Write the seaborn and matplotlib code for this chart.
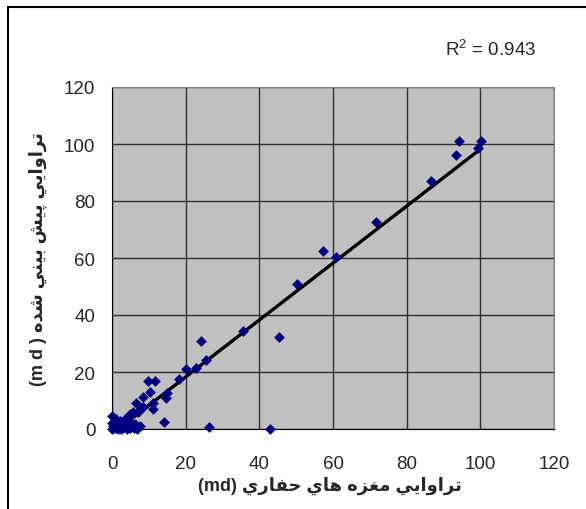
import numpy as np
import pandas as pd
import matplotlib
matplotlib.use('Agg')
import matplotlib.pyplot as plt
import seaborn as sns
from matplotlib.patches import Rectangle

# core permeability (x) vs predicted permeability (y), md
measured = [94.3, 100.3, 93.3, 99.5, 86.5, 71.7, 57.4, 60.7, 50.2, 35.7,
            45.4, 24.1, 25.4, 22.8, 20.0, 18.1, 15.0, 14.7, 9.7, 11.7,
            10.3, 8.5, 11.2, 6.5, 11.2, 8.5, 5.8, 4.9, 14.2, 26.2, 42.8,
            0.0, 0.8, 2.2, 3.5, 6.7, 6.2, 4.3, 0.0, 0.5, 1.0, 1.5, 2.0,
            3.0, 4.0, 5.0, 0.0, 1.0, 2.0, 3.0, 5.0, 7.0, 8.0, 4.0, 6.0,
            7.5, 2.5, 0.3, 1.2]
predicted = [101.0, 101.0, 96.3, 98.5, 86.9, 72.7, 62.6, 60.2, 50.9, 34.3,
             32.4, 31.0, 24.1, 21.3, 21.2, 17.5, 12.7, 10.9, 16.8, 16.8,
             13.1, 11.1, 9.1, 9.1, 7.1, 7.6, 5.8, 5.3, 2.6, 0.6, 0.0,
             4.5, 2.9, 2.9, 3.5, 0.0, 1.8, 1.2, 0.0, 0.5, 1.5, 0.0, 0.8,
             0.2, 0.0, 0.5, 2.0, 3.5, 1.5, 2.2, 2.5, 6.0, 7.5, 4.0, 0.3,
             1.0, 0.0, 1.0, 0.2]
ticks = [0, 20, 40, 60, 80, 100, 120]
r2_text = r'R$^{\mathrm{2}}$ = 0.943'

# matplotlib has no arabic shaping, so pick the presentation forms by hand
FORMS = {  # isolated, final, initial, medial
    'ا': ('\ufe8d', '\ufe8e', None, None),
    'ب': ('\ufe8f', '\ufe90', '\ufe91', '\ufe92'),
    'ت': ('\ufe95', '\ufe96', '\ufe97', '\ufe98'),
    'ح': ('\ufea1', '\ufea2', '\ufea3', '\ufea4'),
    'د': ('\ufea9', '\ufeaa', None, None),
    'ر': ('\ufead', '\ufeae', None, None),
    'ز': ('\ufeaf', '\ufeb0', None, None),
    'ش': ('\ufeb5', '\ufeb6', '\ufeb7', '\ufeb8'),
    'غ': ('\ufecd', '\ufece', '\ufecf', '\ufed0'),
    'ف': ('\ufed1', '\ufed2', '\ufed3', '\ufed4'),
    'م': ('\ufee1', '\ufee2', '\ufee3', '\ufee4'),
    'ن': ('\ufee5', '\ufee6', '\ufee7', '\ufee8'),
    'ه': ('\ufee9', '\ufeea', '\ufeeb', '\ufeec'),
    'و': ('\ufeed', '\ufeee', None, None),
    'ي': ('\ufef1', '\ufef2', '\ufef3', '\ufef4'),
    'پ': ('\ufb56', '\ufb57', '\ufb58', '\ufb59'),
}


def shape_rtl(text):
    out = []
    for i, ch in enumerate(text):
        if ch not in FORMS:
            out.append(ch)
            continue
        prev = text[i - 1] if i > 0 else ''
        nxt = text[i + 1] if i + 1 < len(text) else ''
        joins_prev = prev in FORMS and FORMS[prev][2] is not None
        joins_next = FORMS[ch][2] is not None and nxt in FORMS
        f = FORMS[ch]
        if joins_prev and joins_next:
            out.append(f[3])
        elif joins_prev:
            out.append(f[1])
        elif joins_next:
            out.append(f[2])
        else:
            out.append(f[0])
    return ''.join(out)[::-1]


xlabel = '(md) ' + shape_rtl('تراوايي مغزه هاي حفاري')
ylabel = '(m d ) ' + shape_rtl('تراوايي پيش بيني شده')

df = pd.DataFrame({'measured': measured, 'predicted': predicted})

sns.set_style('white')
plt.rcParams['font.family'] = ['Liberation Sans', 'DejaVu Sans']
plt.rcParams['mathtext.fontset'] = 'custom'
plt.rcParams['mathtext.rm'] = 'Liberation Sans'

fig = plt.figure(figsize=(5.86, 5.10), dpi=100)
ax = fig.add_axes([112 / 586, 80 / 510, 442 / 586, 342 / 510])
ax.set_facecolor('#c0c0c0')

sns.regplot(data=df, x='measured', y='predicted', scatter=False, ci=None,
            color='black', line_kws={'linewidth': 2.4}, ax=ax)
sns.scatterplot(data=df, x='measured', y='predicted', marker='D', s=30,
                color='#000080', linewidth=0, clip_on=False, zorder=3, ax=ax)

ax.set_xlim(0, 120)
ax.set_ylim(0, 120)
ax.set_xticks(ticks)
ax.set_yticks(ticks)
ax.grid(True, color='#303030', linewidth=1)
ax.set_axisbelow(True)
ax.tick_params(axis='both', direction='out', length=5, width=1, color='black',
               labelsize=13.5)
ax.tick_params(axis='x', pad=14)
ax.tick_params(axis='y', pad=7)
for side in ['left', 'bottom']:
    ax.spines[side].set_color('black')
for side in ['top', 'right']:
    ax.spines[side].set_color('#808080')

ax.set_xlabel(xlabel, fontsize=13, fontweight='bold')
ax.set_ylabel(ylabel, fontsize=13, fontweight='bold')
ax.xaxis.set_label_coords(0.494, -0.164)
ax.xaxis.label.set_va('center')
ax.yaxis.set_label_coords(-0.167, 0.5)
ax.yaxis.label.set_va('center')

fig.text(491 / 586, 1 - 50 / 510, r2_text, ha='center', va='center', fontsize=13.5)

# chart frame
fig.patches.append(Rectangle((8 / 586, -0.1), 1.2, (510 - 8) / 510 + 0.1,
                             transform=fig.transFigure, fill=False,
                             edgecolor='black', linewidth=1.5))

fig.savefig('out.png', dpi=100)
